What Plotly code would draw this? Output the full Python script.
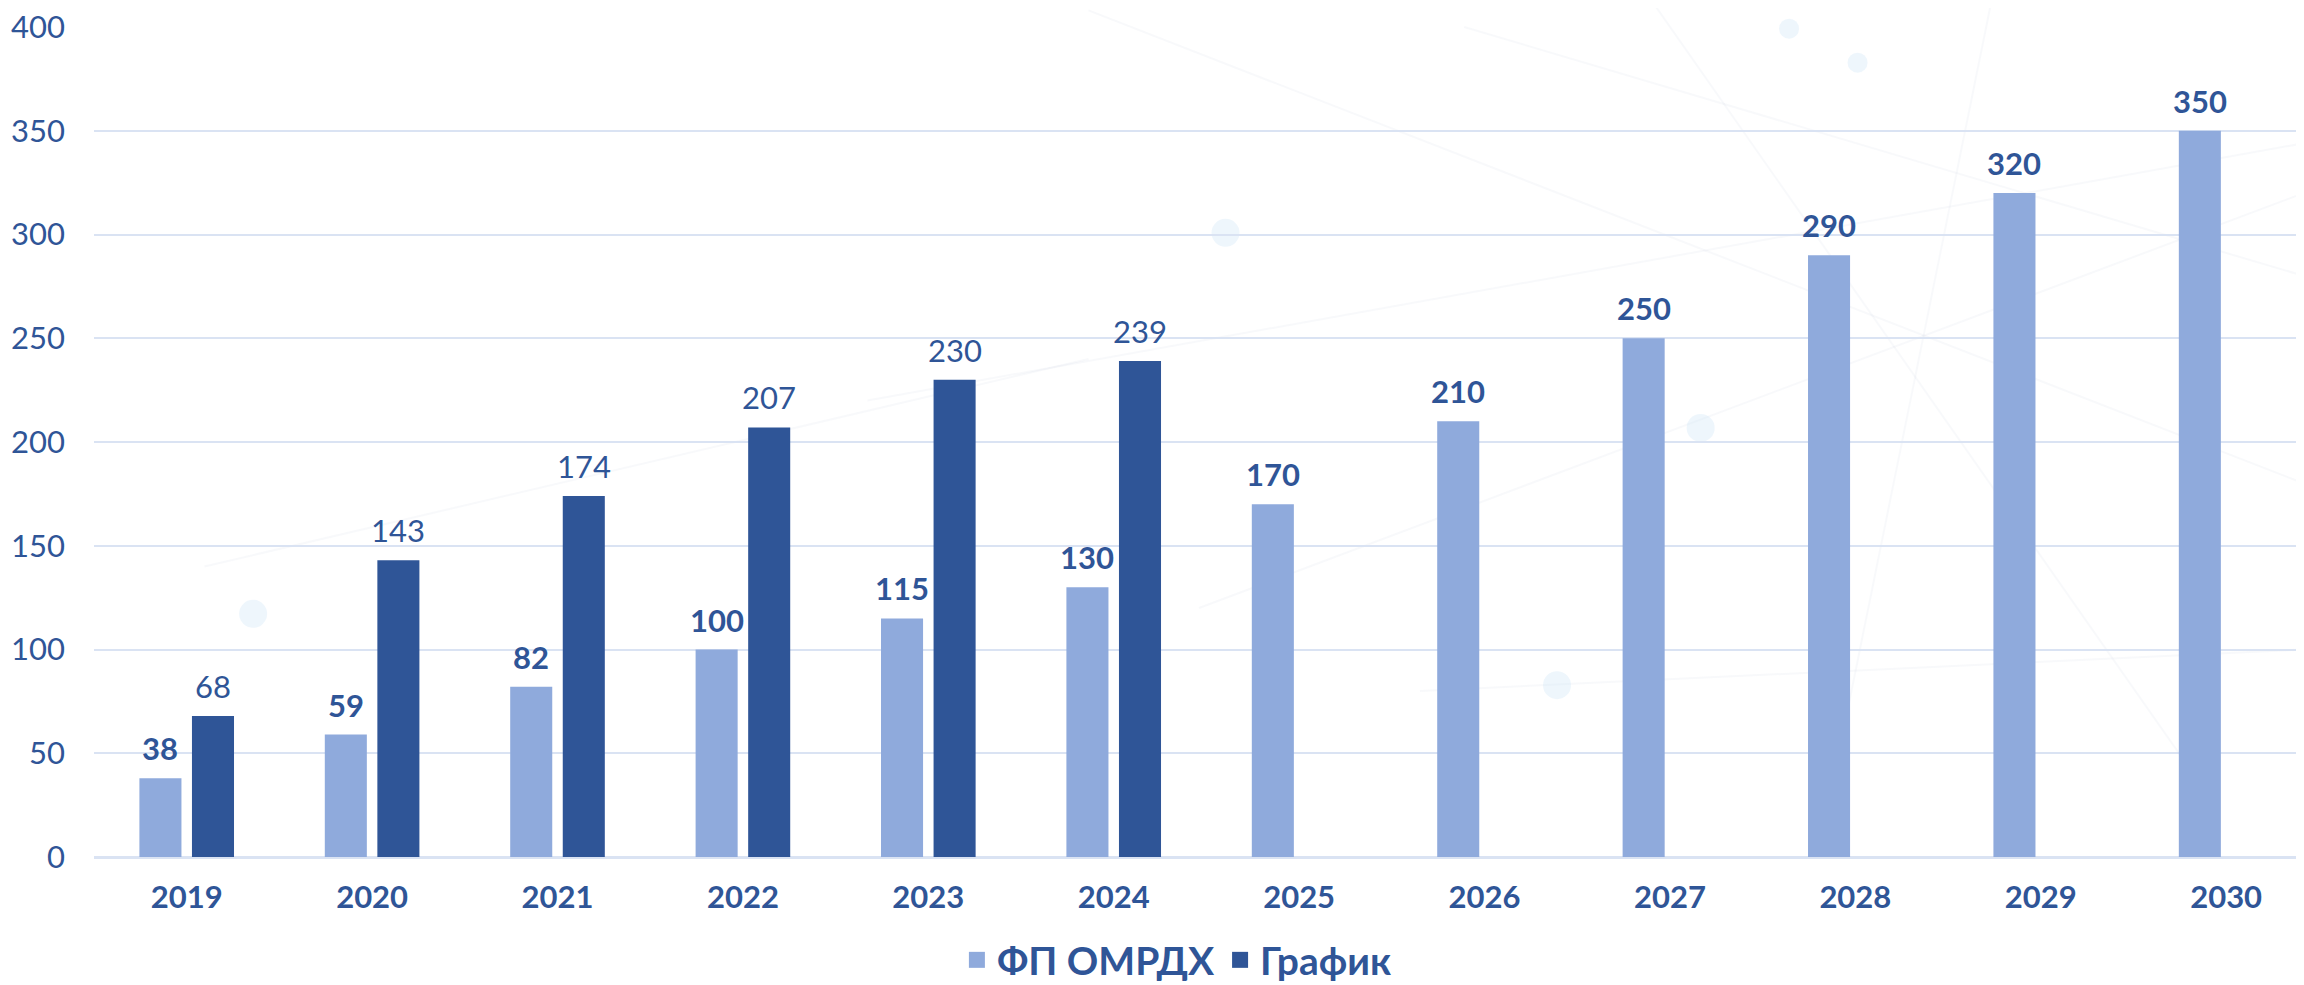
import plotly.graph_objects as go

years = ["2019", "2020", "2021", "2022", "2023", "2024", "2025", "2026", "2027", "2028", "2029", "2030"]
fp_omrdh = [38, 59, 82, 100, 115, 130, 170, 210, 250, 290, 320, 350]
grafik = [68, 143, 174, 207, 230, 239, None, None, None, None, None, None]
series_names = ["ФП ОМРДХ", "График"]
y_ticks = [0, 50, 100, 150, 200, 250, 300, 350, 400]

LIGHT = "#8FAADC"
DARK = "#2F5597"
GRID = "#DAE3F3"
FONT = "Lato, 'Open Sans', sans-serif"

# the page body has an 8px margin, so the figure is sized to fit inside the window
W, H = 2296, 977
PL, PT, PB = 86, 19, 128

fig = go.Figure()
fig.add_trace(go.Bar(x=years, y=fp_omrdh, name=series_names[0], marker_color=LIGHT,
                     marker_line_width=0, hoverinfo="x+y", showlegend=False))
fig.add_trace(go.Bar(x=years, y=grafik, name=series_names[1], marker_color=DARK,
                     marker_line_width=0, hoverinfo="x+y", showlegend=False))
# legend entries with larger square swatches
for name, col in zip(series_names, [LIGHT, DARK]):
    fig.add_trace(go.Scatter(x=[None], y=[None], mode="markers", name=name,
                             marker=dict(symbol="square", size=16, color=col),
                             showlegend=True))

annotations = []
for i, v in enumerate(fp_omrdh):
    annotations.append(dict(x=i, y=v, xref="x", yref="y", text=str(v), showarrow=False,
                            xshift=-26.25, yshift=9, yanchor="bottom",
                            font=dict(family=FONT, size=31, color=DARK, weight="bold")))
for i, v in enumerate(grafik):
    if v is None:
        continue
    annotations.append(dict(x=i, y=v, xref="x", yref="y", text=str(v), showarrow=False,
                            xshift=26.25, yshift=9, yanchor="bottom",
                            font=dict(family=FONT, size=31, color=DARK, weight="normal")))

# faint decorative background (lines and dots)
shapes = []
deco_lines = [
    (0.62, 1.0, 1.0, 0.70), (0.35, 0.55, 1.0, 0.86), (0.70, 1.05, 0.95, 0.10),
    (0.45, 1.02, 1.0, 0.45), (0.05, 0.35, 0.45, 0.60), (0.60, 0.20, 1.0, 0.25),
    (0.50, 0.30, 1.0, 0.80), (0.86, 1.05, 0.78, 0.0),
]
for x0, y0, x1, y1 in deco_lines:
    shapes.append(dict(type="line", xref="paper", yref="paper", x0=x0, y0=y0, x1=x1, y1=y1,
                       line=dict(color="rgba(200,205,225,0.13)", width=2), layer="below"))
deco_dots = [(0.072, 0.293, 14), (0.512, 0.752, 14), (0.662, 0.207, 14),
             (0.727, 0.517, 14), (0.767, 0.998, 10), (0.798, 0.957, 10)]
for cx, cy, r in deco_dots:
    rx = r / (W - PL)
    ry = r / (H - PT - PB)
    shapes.append(dict(type="circle", xref="paper", yref="paper", x0=cx - rx, x1=cx + rx,
                       y0=cy - ry, y1=cy + ry, line_width=0,
                       fillcolor="rgba(205,228,245,0.35)", layer="below"))

fig.update_layout(
    width=W, height=H,
    margin=dict(l=PL, r=0, t=PT, b=PB, autoexpand=False),
    paper_bgcolor="white", plot_bgcolor="rgba(0,0,0,0)",
    barmode="group", bargap=0.433, bargroupgap=0.2,
    font=dict(family=FONT, color=DARK),
    annotations=annotations,
    shapes=shapes,
    showlegend=True,
    legend=dict(orientation="h", x=0.490, xanchor="center",
                yref="container", y=1 - 952 / H, yanchor="middle",
                font=dict(family=FONT, size=39, color=DARK, weight="bold"),
                itemwidth=30, bgcolor="rgba(0,0,0,0)", traceorder="normal"),
    xaxis=dict(type="category", range=[-0.5, 11.42], showgrid=False, showline=False,
               ticks="", ticklabelstandoff=19, automargin=False, ticklabeloverflow="allow",
               tickfont=dict(family=FONT, size=31, color=DARK, weight="bold")),
    yaxis=dict(range=[0, 400], tickvals=y_ticks, showgrid=True, gridcolor=GRID, gridwidth=2,
               zeroline=True, zerolinecolor=GRID, zerolinewidth=3, showline=False,
               ticks="", ticklabelstandoff=28, automargin=False, ticklabeloverflow="allow",
               tickfont=dict(family=FONT, size=31, color=DARK)),
)

fig.write_html("out.html")
